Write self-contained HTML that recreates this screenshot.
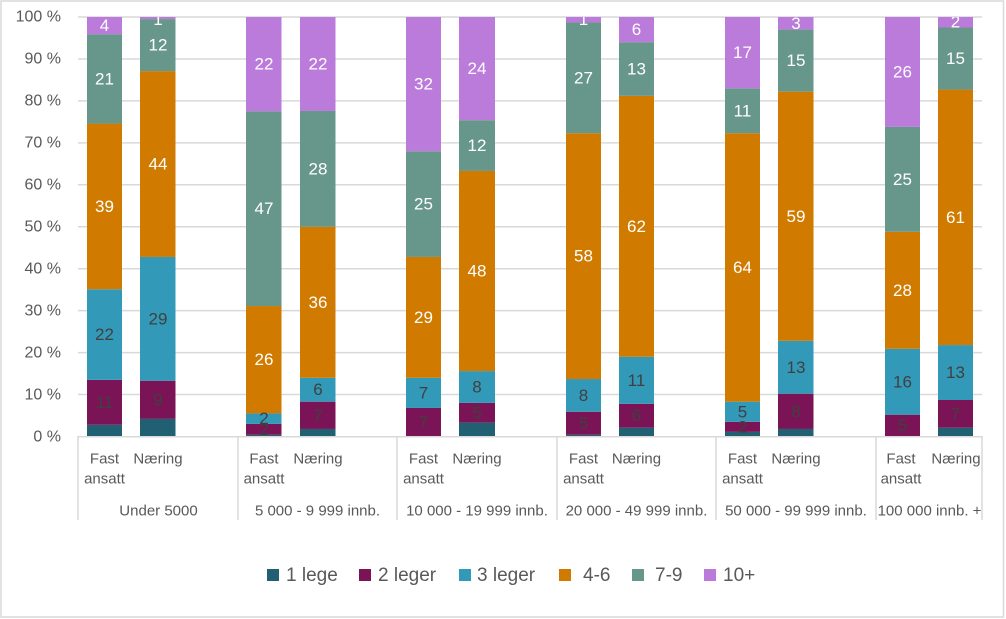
<!DOCTYPE html>
<html>
<head>
<meta charset="utf-8">
<style>
html,body{margin:0;padding:0;background:#fff;}
svg{display:block;}
.yl{font-family:"Liberation Sans",sans-serif;font-size:16px;fill:#595959;text-anchor:end;dominant-baseline:central;}
.cl{font-family:"Liberation Sans",sans-serif;font-size:15px;fill:#595959;text-anchor:middle;dominant-baseline:central;}
.dw{font-family:"Liberation Sans",sans-serif;font-size:17px;fill:#ffffff;text-anchor:middle;dominant-baseline:central;}
.dd{font-family:"Liberation Sans",sans-serif;font-size:17px;fill:#404040;text-anchor:middle;dominant-baseline:central;}
.lg{font-family:"Liberation Sans",sans-serif;font-size:19px;fill:#595959;dominant-baseline:central;}
</style>
</head>
<body>
<svg width="1006" height="619" viewBox="0 0 1006 619" xmlns="http://www.w3.org/2000/svg">
<defs>
<clipPath id="pc"><rect x="70" y="17" width="920" height="430"/></clipPath>
</defs>
<rect x="0" y="0" width="1006" height="619" fill="#fff"/>
<rect x="1" y="1" width="1002.5" height="616" fill="none" stroke="#d9d9d9" stroke-width="1.5"/>

<!-- gridlines -->
<g stroke="#d9d9d9" stroke-width="1.5">
<line x1="78" y1="17" x2="982" y2="17"/>
<line x1="78" y1="58.95" x2="982" y2="58.95"/>
<line x1="78" y1="100.9" x2="982" y2="100.9"/>
<line x1="78" y1="142.85" x2="982" y2="142.85"/>
<line x1="78" y1="184.8" x2="982" y2="184.8"/>
<line x1="78" y1="226.75" x2="982" y2="226.75"/>
<line x1="78" y1="268.7" x2="982" y2="268.7"/>
<line x1="78" y1="310.65" x2="982" y2="310.65"/>
<line x1="78" y1="352.6" x2="982" y2="352.6"/>
<line x1="78" y1="394.55" x2="982" y2="394.55"/>
</g>

<!-- y labels -->
<text class="yl" x="61" y="17">100 %</text>
<text class="yl" x="61" y="59">90 %</text>
<text class="yl" x="61" y="101">80 %</text>
<text class="yl" x="61" y="143">70 %</text>
<text class="yl" x="61" y="185">60 %</text>
<text class="yl" x="61" y="227">50 %</text>
<text class="yl" x="61" y="269">40 %</text>
<text class="yl" x="61" y="311">30 %</text>
<text class="yl" x="61" y="353">20 %</text>
<text class="yl" x="61" y="395">10 %</text>
<text class="yl" x="61" y="437">0 %</text>

<!-- bars -->
<g>
<!-- G1 Fast -->
<rect x="87" y="424.75" width="35" height="11.75" fill="#215f73"/>
<rect x="87" y="379.87" width="35" height="44.88" fill="#7b1456"/>
<rect x="87" y="289.25" width="35" height="90.62" fill="#3399b9"/>
<rect x="87" y="123.55" width="35" height="165.7" fill="#d07a00"/>
<rect x="87" y="34.2" width="35" height="89.35" fill="#67978a"/>
<rect x="87" y="17" width="35" height="17.2" fill="#bb7bdb"/>
<!-- G1 Næring -->
<rect x="140" y="418.88" width="35.5" height="17.62" fill="#215f73"/>
<rect x="140" y="380.71" width="35.5" height="38.17" fill="#7b1456"/>
<rect x="140" y="256.95" width="35.5" height="123.76" fill="#3399b9"/>
<rect x="140" y="71.12" width="35.5" height="185.83" fill="#d07a00"/>
<rect x="140" y="19.1" width="35.5" height="52.02" fill="#67978a"/>
<rect x="140" y="17" width="35.5" height="2.1" fill="#bb7bdb"/>
<!-- G2 Fast -->
<rect x="246" y="434.82" width="35.5" height="1.68" fill="#215f73"/>
<rect x="246" y="423.92" width="35.5" height="10.9" fill="#7b1456"/>
<rect x="246" y="413.43" width="35.5" height="10.49" fill="#3399b9"/>
<rect x="246" y="306.03" width="35.5" height="107.4" fill="#d07a00"/>
<rect x="246" y="111.39" width="35.5" height="194.64" fill="#67978a"/>
<rect x="246" y="17" width="35.5" height="94.39" fill="#bb7bdb"/>
<!-- G2 Næring -->
<rect x="300" y="428.95" width="35.5" height="7.55" fill="#215f73"/>
<rect x="300" y="401.68" width="35.5" height="27.27" fill="#7b1456"/>
<rect x="300" y="377.77" width="35.5" height="23.91" fill="#3399b9"/>
<rect x="300" y="226.75" width="35.5" height="151.02" fill="#d07a00"/>
<rect x="300" y="110.97" width="35.5" height="115.78" fill="#67978a"/>
<rect x="300" y="17" width="35.5" height="93.97" fill="#bb7bdb"/>
<!-- G3 Fast -->
<rect x="406" y="407.97" width="35" height="28.53" fill="#7b1456"/>
<rect x="406" y="377.77" width="35" height="30.2" fill="#3399b9"/>
<rect x="406" y="256.95" width="35" height="120.82" fill="#d07a00"/>
<rect x="406" y="151.24" width="35" height="105.71" fill="#67978a"/>
<rect x="406" y="17" width="35" height="134.24" fill="#bb7bdb"/>
<!-- G3 Næring -->
<rect x="459" y="422.66" width="36" height="13.84" fill="#215f73"/>
<rect x="459" y="402.94" width="36" height="19.72" fill="#7b1456"/>
<rect x="459" y="371.06" width="36" height="31.88" fill="#3399b9"/>
<rect x="459" y="170.95" width="36" height="200.11" fill="#d07a00"/>
<rect x="459" y="120.19" width="36" height="50.76" fill="#67978a"/>
<rect x="459" y="17" width="36" height="103.19" fill="#bb7bdb"/>
<!-- G4 Fast -->
<rect x="566" y="434.82" width="35" height="1.68" fill="#215f73"/>
<rect x="566" y="411.75" width="35" height="23.07" fill="#7b1456"/>
<rect x="566" y="379.03" width="35" height="32.72" fill="#3399b9"/>
<rect x="566" y="133.2" width="35" height="245.83" fill="#d07a00"/>
<rect x="566" y="22.45" width="35" height="110.75" fill="#67978a"/>
<rect x="566" y="17" width="35" height="5.45" fill="#bb7bdb"/>
<!-- G4 Næring -->
<rect x="619" y="427.69" width="35" height="8.81" fill="#215f73"/>
<rect x="619" y="403.78" width="35" height="23.91" fill="#7b1456"/>
<rect x="619" y="356.8" width="35" height="46.98" fill="#3399b9"/>
<rect x="619" y="95.87" width="35" height="260.93" fill="#d07a00"/>
<rect x="619" y="42.17" width="35" height="53.7" fill="#67978a"/>
<rect x="619" y="17" width="35" height="25.17" fill="#bb7bdb"/>
<!-- G5 Fast -->
<rect x="725" y="431.89" width="35" height="4.61" fill="#215f73"/>
<rect x="725" y="421.82" width="35" height="10.07" fill="#7b1456"/>
<rect x="725" y="401.68" width="35" height="20.14" fill="#3399b9"/>
<rect x="725" y="133.2" width="35" height="268.48" fill="#d07a00"/>
<rect x="725" y="88.32" width="35" height="44.88" fill="#67978a"/>
<rect x="725" y="17" width="35" height="71.32" fill="#bb7bdb"/>
<!-- G5 Næring -->
<rect x="778" y="428.95" width="35.5" height="7.55" fill="#215f73"/>
<rect x="778" y="393.71" width="35.5" height="35.24" fill="#7b1456"/>
<rect x="778" y="340.85" width="35.5" height="52.86" fill="#3399b9"/>
<rect x="778" y="91.67" width="35.5" height="249.18" fill="#d07a00"/>
<rect x="778" y="29.59" width="35.5" height="62.08" fill="#67978a"/>
<rect x="778" y="17" width="35.5" height="12.59" fill="#bb7bdb"/>
<!-- G6 Fast -->
<rect x="885" y="414.69" width="35" height="21.81" fill="#7b1456"/>
<rect x="885" y="348.82" width="35" height="65.87" fill="#3399b9"/>
<rect x="885" y="231.78" width="35" height="117.04" fill="#d07a00"/>
<rect x="885" y="126.91" width="35" height="104.87" fill="#67978a"/>
<rect x="885" y="17" width="35" height="109.91" fill="#bb7bdb"/>
<!-- G6 Næring -->
<rect x="938" y="427.69" width="35" height="8.81" fill="#215f73"/>
<rect x="938" y="400.0" width="35" height="27.69" fill="#7b1456"/>
<rect x="938" y="345.05" width="35" height="54.95" fill="#3399b9"/>
<rect x="938" y="89.57" width="35" height="255.48" fill="#d07a00"/>
<rect x="938" y="27.49" width="35" height="62.08" fill="#67978a"/>
<rect x="938" y="17" width="35" height="10.49" fill="#bb7bdb"/>
</g>

<!-- data labels -->
<g clip-path="url(#pc)">
<!-- G1 F -->
<text class="dd" x="104.5" y="402.3">11</text>
<text class="dd" x="104.5" y="334.6">22</text>
<text class="dw" x="104.5" y="206.4">39</text>
<text class="dw" x="104.5" y="78.9">21</text>
<text class="dw" x="104.5" y="25.6">4</text>
<!-- G1 N -->
<text class="dd" x="158" y="399.8">9</text>
<text class="dd" x="158" y="318.8">29</text>
<text class="dw" x="158" y="164">44</text>
<text class="dw" x="158" y="45.1">12</text>
<text class="dw" x="158" y="19.5">1</text>
<!-- G2 F -->
<text class="dd" x="264" y="429.4">2</text>
<text class="dd" x="264" y="418.7">2</text>
<text class="dw" x="264" y="359.7">26</text>
<text class="dw" x="264" y="208.7">47</text>
<text class="dw" x="264" y="64.2">22</text>
<!-- G2 N -->
<text class="dd" x="318" y="415.3">7</text>
<text class="dd" x="318" y="389.7">6</text>
<text class="dw" x="318" y="302.3">36</text>
<text class="dw" x="318" y="168.9">28</text>
<text class="dw" x="318" y="64">22</text>
<!-- G3 F -->
<text class="dd" x="423.5" y="422.2">7</text>
<text class="dd" x="423.5" y="392.9">7</text>
<text class="dw" x="423.5" y="317.4">29</text>
<text class="dw" x="423.5" y="204.1">25</text>
<text class="dw" x="423.5" y="84.1">32</text>
<!-- G3 N -->
<text class="dd" x="477" y="412.8">5</text>
<text class="dd" x="477" y="387">8</text>
<text class="dw" x="477" y="271">48</text>
<text class="dw" x="477" y="145.6">12</text>
<text class="dw" x="477" y="68.6">24</text>
<!-- G4 F -->
<text class="dd" x="583.5" y="423.3">5</text>
<text class="dd" x="583.5" y="395.4">8</text>
<text class="dw" x="583.5" y="256.1">58</text>
<text class="dw" x="583.5" y="77.8">27</text>
<text class="dw" x="583.5" y="19.7">1</text>
<!-- G4 N -->
<text class="dd" x="636.5" y="415.7">6</text>
<text class="dd" x="636.5" y="380.3">11</text>
<text class="dw" x="636.5" y="226.3">62</text>
<text class="dw" x="636.5" y="69">13</text>
<text class="dw" x="636.5" y="29.6">6</text>
<!-- G5 F -->
<text class="dd" x="742.5" y="426.9">2</text>
<text class="dd" x="742.5" y="411.8">5</text>
<text class="dw" x="742.5" y="267.4">64</text>
<text class="dw" x="742.5" y="110.8">11</text>
<text class="dw" x="742.5" y="52.7">17</text>
<!-- G5 N -->
<text class="dd" x="796" y="411.3">8</text>
<text class="dd" x="796" y="367.3">13</text>
<text class="dw" x="796" y="216.3">59</text>
<text class="dw" x="796" y="60.6">15</text>
<text class="dw" x="796" y="23.3">3</text>
<!-- G6 F -->
<text class="dd" x="902.5" y="425.6">5</text>
<text class="dd" x="902.5" y="381.8">16</text>
<text class="dw" x="902.5" y="290.3">28</text>
<text class="dw" x="902.5" y="179.3">25</text>
<text class="dw" x="902.5" y="72">26</text>
<!-- G6 N -->
<text class="dd" x="955.5" y="413.8">7</text>
<text class="dd" x="955.5" y="372.5">13</text>
<text class="dw" x="955.5" y="217.3">61</text>
<text class="dw" x="955.5" y="58.5">15</text>
<text class="dw" x="955.5" y="22.2">2</text>
</g>

<!-- category axis -->
<g stroke="#d9d9d9" stroke-width="1.5">
<line x1="78" y1="436.7" x2="982" y2="436.7"/>
<line x1="78" y1="436" x2="78" y2="520"/>
<line x1="238" y1="436" x2="238" y2="520"/>
<line x1="397" y1="436" x2="397" y2="520"/>
<line x1="557" y1="436" x2="557" y2="520"/>
<line x1="716" y1="436" x2="716" y2="520"/>
<line x1="876" y1="436" x2="876" y2="520"/>
<line x1="982" y1="436" x2="982" y2="520"/>
</g>

<g>
<text class="cl" x="104.5" y="459">Fast</text>
<text class="cl" x="104.5" y="479">ansatt</text>
<text class="cl" x="158" y="459">Næring</text>
<text class="cl" x="264" y="459">Fast</text>
<text class="cl" x="264" y="479">ansatt</text>
<text class="cl" x="318" y="459">Næring</text>
<text class="cl" x="423.5" y="459">Fast</text>
<text class="cl" x="423.5" y="479">ansatt</text>
<text class="cl" x="477" y="459">Næring</text>
<text class="cl" x="583.5" y="459">Fast</text>
<text class="cl" x="583.5" y="479">ansatt</text>
<text class="cl" x="636.5" y="459">Næring</text>
<text class="cl" x="742.5" y="459">Fast</text>
<text class="cl" x="742.5" y="479">ansatt</text>
<text class="cl" x="796" y="459">Næring</text>
<text class="cl" x="901" y="459">Fast</text>
<text class="cl" x="901" y="479">ansatt</text>
<text class="cl" x="956" y="459">Næring</text>

<text class="cl" x="158.5" y="511">Under 5000</text>
<text class="cl" x="317.5" y="511">5 000 - 9 999 innb.</text>
<text class="cl" x="477" y="511">10 000 - 19 999 innb.</text>
<text class="cl" x="636.5" y="511">20 000 - 49 999 innb.</text>
<text class="cl" x="796" y="511">50 000 - 99 999 innb.</text>
<text class="cl" x="929.5" y="511">100 000 innb. +</text>
</g>

<!-- legend -->
<rect x="267" y="569" width="12" height="12" fill="#215f73"/>
<text class="lg" x="286" y="575.5">1 lege</text>
<rect x="359" y="569" width="12" height="12" fill="#7b1456"/>
<text class="lg" x="378" y="575.5">2 leger</text>
<rect x="459" y="569" width="12" height="12" fill="#3399b9"/>
<text class="lg" x="477" y="575.5">3 leger</text>
<rect x="559" y="569" width="12" height="12" fill="#d07a00"/>
<text class="lg" x="583" y="575.5">4-6</text>
<rect x="632" y="569" width="12" height="12" fill="#67978a"/>
<text class="lg" x="655" y="575.5">7-9</text>
<rect x="704" y="569" width="12" height="12" fill="#bb7bdb"/>
<text class="lg" x="723" y="575.5">10+</text>
</svg>
</body>
</html>
